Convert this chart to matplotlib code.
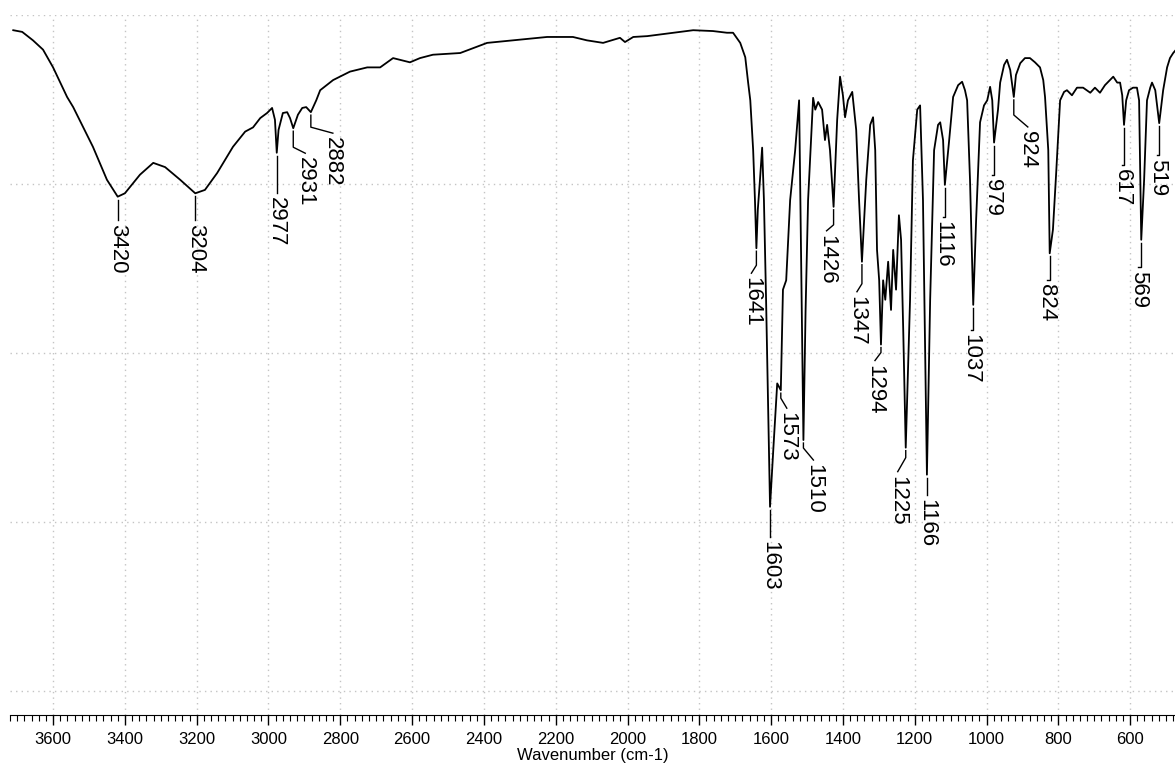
import matplotlib
matplotlib.use("Agg")
import matplotlib.pyplot as plt
from matplotlib.ticker import MultipleLocator
import numpy as np

plt.rcParams["font.family"] = ["Liberation Sans", "DejaVu Sans"]

# IR spectrum: wavenumber (cm-1) and transmittance (%T)
WAVENUMBER = [
    3711, 3686, 3656, 3628, 3600, 3561, 3544, 3489, 3450, 3420, 3400, 3358,
    3321, 3288, 3246, 3204, 3177, 3143, 3099, 3065, 3043, 3023, 3004, 2990,
    2982, 2977, 2972, 2960, 2948, 2940, 2931, 2918, 2906, 2895, 2882, 2867,
    2856, 2820, 2773, 2725, 2689, 2653, 2606, 2578, 2542, 2466, 2391, 2319,
    2224, 2152, 2113, 2068, 2021, 2007, 1984, 1945, 1873, 1817, 1762, 1723,
    1706, 1686, 1672, 1664, 1658, 1650, 1645, 1641, 1637, 1631, 1625, 1620,
    1614, 1603, 1594, 1583, 1573, 1567, 1558, 1547, 1533, 1522, 1516, 1510,
    1504, 1497, 1483, 1477, 1469, 1458, 1450, 1444, 1436, 1426, 1416, 1408,
    1400, 1394, 1386, 1374, 1363, 1355, 1347, 1335, 1324, 1316, 1310, 1305,
    1299, 1294, 1288, 1282, 1274, 1266, 1260, 1252, 1244, 1238, 1232, 1228,
    1225, 1213, 1205, 1193, 1185, 1177, 1171, 1166, 1157, 1146, 1135, 1129,
    1121, 1116, 1104, 1093, 1079, 1068, 1060, 1054, 1046, 1037, 1029, 1018,
    1007, 998, 990, 984, 979, 968, 962, 951, 943, 934, 924, 918,
    906, 893, 879, 865, 851, 842, 837, 828, 824, 815, 806, 795,
    784, 776, 762, 748, 731, 711, 698, 684, 670, 656, 647, 636,
    628, 622, 617, 611, 603, 592, 581, 575, 569, 561, 553, 544,
    539, 530, 525, 519, 508, 497, 489, 480, 472,
]
TRANSMITTANCE = [
    78.2, 78.0, 77.0, 75.9, 73.8, 70.3, 69.1, 64.4, 60.5, 58.5, 58.9, 61.1,
    62.5, 62.0, 60.5, 58.9, 59.3, 61.3, 64.4, 66.2, 66.7, 67.8, 68.4, 69.0,
    67.6, 63.7, 66.4, 68.4, 68.5, 67.8, 66.6, 68.2, 69.0, 69.1, 68.5, 69.9,
    71.1, 72.3, 73.3, 73.8, 73.8, 74.9, 74.4, 74.9, 75.3, 75.5, 76.7, 77.0,
    77.4, 77.4, 77.0, 76.7, 77.3, 76.8, 77.4, 77.5, 77.9, 78.2, 78.1, 77.9,
    77.9, 76.7, 75.0, 72.0, 69.9, 64.0, 58.1, 52.4, 57.0, 60.5, 64.3, 58.1,
    46.3, 21.8, 28.5, 36.4, 35.6, 47.5, 48.6, 58.1, 64.0, 69.9, 50.0, 29.7,
    45.0, 58.1, 70.2, 68.8, 69.7, 68.8, 65.2, 67.0, 64.0, 57.3, 67.6, 72.7,
    70.5, 67.9, 69.9, 70.9, 66.4, 58.1, 50.8, 60.5, 67.0, 67.9, 64.0, 52.2,
    48.6, 41.0, 48.6, 46.3, 50.8, 45.1, 52.2, 47.5, 56.3, 53.4, 42.7, 35.0,
    28.8, 46.3, 62.8, 68.8, 69.3, 58.1, 40.4, 25.6, 46.3, 64.0, 67.0, 67.3,
    65.2, 59.9, 65.2, 70.3, 71.7, 72.1, 71.1, 69.9, 60.5, 45.7, 55.7, 67.3,
    69.3, 69.9, 71.5, 69.9, 64.9, 68.8, 72.0, 74.1, 74.7, 73.5, 70.3, 72.9,
    74.3, 74.9, 74.9, 74.4, 73.8, 72.3, 70.3, 64.0, 51.8, 54.6, 61.3, 69.9,
    70.9, 71.1, 70.5, 71.4, 71.4, 70.8, 71.4, 70.8, 71.7, 72.3, 72.7, 72.0,
    72.0, 70.5, 67.0, 69.9, 71.1, 71.4, 71.4, 69.9, 53.4, 60.5, 69.9, 71.4,
    72.0, 71.1, 69.3, 67.2, 71.1, 73.8, 74.9, 75.5, 75.9,
]

PEAKS = [3420, 3204, 2977, 2931, 2882, 1641, 1603, 1573, 1510, 1426, 1347,
         1294, 1225, 1166, 1116, 1037, 979, 924, 824, 617, 569, 519]

# leader line shape in pixels: (drop before the bend, sideways shift, total drop)
LEADER = {
    3420: (23, 0, 23), 3204: (27, 0, 27), 2977: (40, 0, 40),
    2931: (19, 12, 25), 2882: (15, 22, 21), 1641: (17, -5, 25),
    1603: (30, 0, 30), 1573: (8, 6, 18), 1510: (8, 10, 20),
    1426: (18, -7, 24), 1347: (22, -5, 30), 1294: (8, -6, 16),
    1225: (10, -8, 24), 1166: (20, 0, 20), 1116: (32, -2, 32),
    1037: (25, -2, 25), 979: (32, -2, 32), 924: (18, 14, 30),
    824: (27, -3, 27), 617: (40, -2, 40), 569: (27, -3, 27),
    519: (32, -2, 32),
}

fig = plt.figure(figsize=(11.75, 7.69), dpi=100)
ax = fig.add_axes([10 / 1175, 54 / 769, 1165 / 1175, 700 / 769])

wn = np.array(WAVENUMBER)
tr = np.array(TRANSMITTANCE)
ax.plot(wn, tr, color="black", lw=1.3)

ax.set_xlim(3720, 475)
ax.set_ylim(-2.84, 80)

ax.xaxis.set_major_locator(MultipleLocator(200))
ax.xaxis.set_minor_locator(MultipleLocator(20))
ax.yaxis.set_major_locator(MultipleLocator(20))
ax.grid(True, which="major", color="#c4c4c4", linestyle=(0, (1, 3)), linewidth=1)
ax.tick_params(axis="y", left=False, labelleft=False)
ax.tick_params(axis="x", which="major", length=7, width=1, labelsize=12, pad=5)
ax.tick_params(axis="x", which="minor", length=4, width=0.8)
for side in ["top", "left", "right"]:
    ax.spines[side].set_visible(False)
ax.set_xlabel("Wavenumber (cm-1)", fontsize=12, labelpad=1)

# peak labels with leader lines, placed in pixel offsets below each minimum
to_px = ax.transData
for w in PEAKS:
    t = np.interp(w, wn[::-1], tr[::-1])
    knee, shift, end = LEADER[w]
    x0, y0 = to_px.transform((w, t))
    pts = to_px.inverted().transform(
        [(x0, y0 - 3), (x0, y0 - knee), (x0 + shift, y0 - end)])
    ax.plot(pts[:, 0], pts[:, 1], color="black", lw=1)
    tx, ty = to_px.inverted().transform((x0 + shift, y0 - end - 4))
    ax.text(tx, ty, str(w), rotation=-90, ha="center", va="top", fontsize=16)

fig.savefig("out.png", dpi=100)
